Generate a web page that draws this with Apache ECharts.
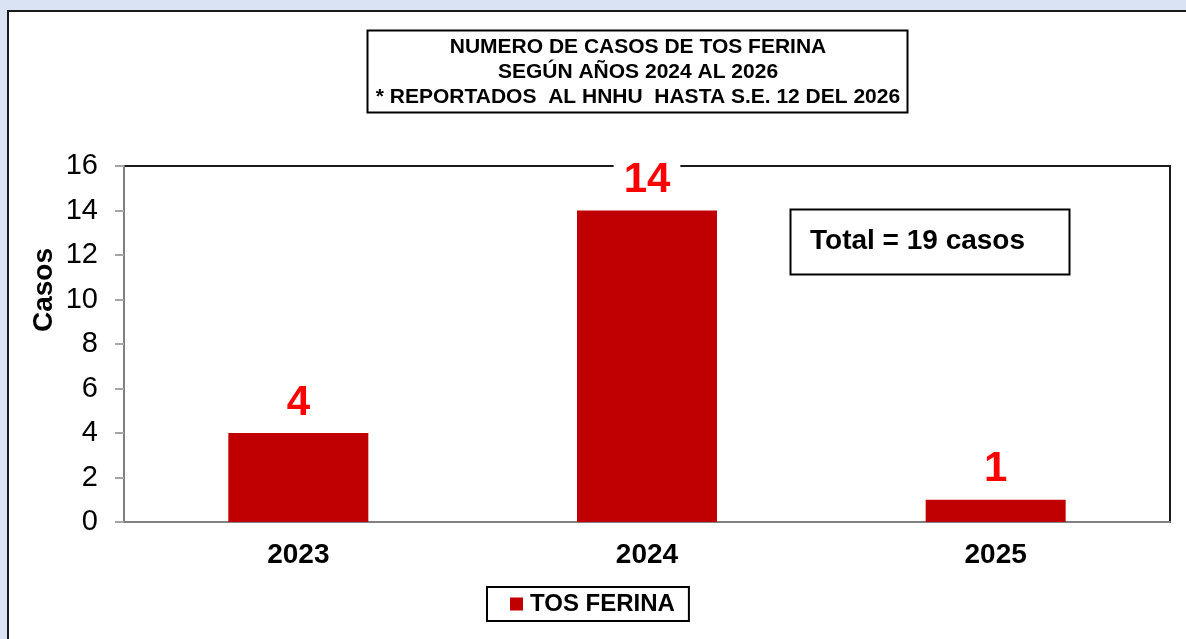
<!DOCTYPE html>
<html>
<head>
<meta charset="utf-8">
<script src="https://cdn.jsdelivr.net/npm/echarts@6/dist/echarts.min.js"></script>
<style>
  html, body { margin: 0; padding: 0; background: #dae3f3; }
  #main { width: 1186px; height: 639px; }
</style>
</head>
<body>
<div id="main"></div>
<script>
// datos
const years = ['2023', '2024', '2025'];
const casos = [4, 14, 1];
const serieName = 'TOS FERINA';
const titleLines = [
  'NUMERO DE CASOS DE TOS FERINA',
  'SEGÚN AÑOS 2024 AL 2026',
  '* REPORTADOS  AL HNHU  HASTA S.E. 12 DEL 2026'
];
const totalText = 'Total = ' + casos.reduce((a, b) => a + b, 0) + ' casos';
const yMax = 16;
const yStep = 2;

const font = 'Liberation Sans, Arial, sans-serif';
const chart = echarts.init(document.getElementById('main'));

var option = {
  backgroundColor: 'transparent',
  animation: false,
  graphic: [
    {
      type: 'rect', z: -10, silent: true,
      shape: { x: 8, y: 11, width: 1200, height: 700 },
      style: { fill: '#ffffff', stroke: '#1a1a1a', lineWidth: 2 }
    },
    {
      type: 'rect', silent: true,
      shape: { x: 367.5, y: 30.5, width: 540, height: 82 },
      style: { fill: '#ffffff', stroke: '#000000', lineWidth: 2 }
    },
    {
      type: 'text', silent: true, x: 638, y: 72,
      style: {
        text: titleLines.join('\n'),
        align: 'center', verticalAlign: 'middle',
        font: 'bold 21px ' + font, lineHeight: 25, fill: '#000000'
      }
    },
    {
      type: 'rect', silent: true,
      shape: { x: 790.5, y: 209.5, width: 279, height: 65 },
      style: { fill: '#ffffff', stroke: '#000000', lineWidth: 2 }
    },
    {
      type: 'text', silent: true, x: 810, y: 241,
      style: {
        text: totalText, align: 'left', verticalAlign: 'middle',
        font: 'bold 28px ' + font, fill: '#000000'
      }
    },
    {
      type: 'text', silent: true, x: 44, y: 290, rotation: Math.PI / 2,
      style: {
        text: 'Casos', align: 'center', verticalAlign: 'middle',
        font: 'bold 28px ' + font, fill: '#000000'
      }
    }
  ],
  legend: {
    left: 487, top: 587,
    orient: 'horizontal',
    data: [serieName],
    icon: 'rect', itemWidth: 13, itemHeight: 13, itemGap: 0,
    borderColor: '#000000', borderWidth: 2,
    backgroundColor: '#ffffff',
    padding: [4, 14, 4, 23],
    textStyle: { fontFamily: font, fontWeight: 'bold', fontSize: 24, color: '#000000', lineHeight: 26, padding: [0, 0, 0, 2] }
  },
  grid: {
    left: 124, right: 16, top: 166, bottom: 117,
    show: true, borderColor: '#1a1a1a', borderWidth: 2,
    backgroundColor: 'transparent',
    containLabel: false
  },
  xAxis: {
    type: 'category',
    data: years,
    axisLine: { lineStyle: { color: '#808080', width: 2 } },
    axisTick: { show: false },
    axisLabel: { margin: 19, fontFamily: font, fontWeight: 'bold', fontSize: 28, color: '#000000', lineHeight: 28 },
    splitLine: { show: false }
  },
  yAxis: {
    type: 'value',
    min: 0, max: yMax, interval: yStep,
    axisLine: { show: true, lineStyle: { color: '#808080', width: 2 } },
    axisTick: { show: true, inside: false, length: 9, lineStyle: { color: '#a6a6a6', width: 2 } },
    axisLabel: { margin: 26, fontFamily: font, fontSize: 29, color: '#000000' },
    splitLine: { show: false }
  },
  series: [{
    name: serieName,
    type: 'bar',
    data: casos,
    barWidth: 140,
    itemStyle: { color: '#c00000' },
    label: {
      show: true,
      position: 'top',
      distance: 9,
      fontFamily: font, fontWeight: 'bold', fontSize: 42, lineHeight: 42,
      color: '#ff0000',
      backgroundColor: '#ffffff',
      padding: [0, 10]
    }
  }]
};

chart.setOption(option);
</script>
</body>
</html>
